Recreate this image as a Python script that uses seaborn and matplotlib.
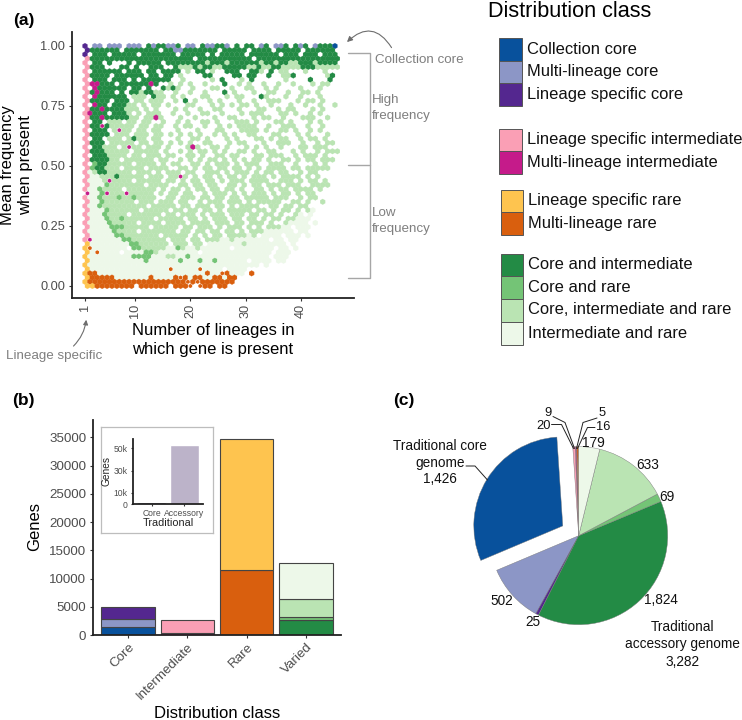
import matplotlib
matplotlib.use("Agg")
import matplotlib.pyplot as plt
from matplotlib.lines import Line2D
from matplotlib.patches import Rectangle, FancyArrowPatch
import numpy as np
import pandas as pd
import seaborn as sns

# ---------- data ----------
class_names = {
    "a": "Collection core", "m": "Multi-lineage core", "p": "Lineage specific core",
    "k": "Lineage specific intermediate", "i": "Multi-lineage intermediate",
    "y": "Lineage specific rare", "o": "Multi-lineage rare",
    "G": "Core and intermediate", "g": "Core and rare",
    "L": "Core, intermediate and rare", "E": "Intermediate and rare",
}
class_colors = {
    "a": "#08519c", "m": "#8c96c6", "p": "#54278f",
    "k": "#fa9fb5", "i": "#c51b8a",
    "y": "#fec44f", "o": "#d95f0e",
    "G": "#238b45", "g": "#74c476", "L": "#bae4b3", "E": "#edf8e9",
}
# class of each occupied hexagon, top row (frequency 1.00) to bottom row (0.00)
# j and q are thinly populated cells of classes i and o
hex_rows = [
"p.mm.mmm.mmm.GmGGmmG.mm.GmmGGm.G.GG.mG.mmG.GmG.mGGGa",
"pGGGGGG.GGGGGGG.GGmmGGGGGGG.GGGGG.GGGG.GGGGG.GGGGGG",
"p.GGG.GGGGG.GGGGGGG.GGGGG.G.GGGGG.GGGGGG.GGG.GGG.GGG",
"kGGGGGGGGGGGGGGGGGGGGG.GGGGGGGGGGG.GGGGGGGGGGGGGGGGG",
"k.GG.G...G.GGGGG.GGGGGGGGLGGGLGGGGGGLGGLGGLLGGGLGGGG",
"kGGG...GG.G..GGG..GLLLGLGGLLGGGGGLLGLLGGLLLLGGGLLLLL",
"k.GGGGGG.GGG.GG.GGGG.L.GG.L..GGG..GGL.G.LL...L...L..",
"kGGGG.GGGGGG.GG.GG.L....GG....GG.GG..G..LLG......LG.",
"k.GGG.GGG.G.GGGGGG..L.....L.G...L.G......L....G...G.",
"kiiGGG.GGGGGGiG..L.L.L..L...G..L.L..L..L..L...L.LL..",
"k.iGGGGGG.GG.G..GLGL..L...LL..L..LL..L.L....L...L...",
"kGiGGG.G.GGLGGLL..L..L..L...G.L...L..LL..L..LL.L....",
"k.iGGGGGG.LLL.GLL.L.L...LL...L.LL...GL...L..L...L...",
"kGGGG.GGG.LL.LLL..L.G.L..L.L...L..L..LLL...L.LL.L...",
"k.iGG.GGGLL.L.LL.L...LL...L.L.L.LL.L..L...L..L..L..L",
"kGGiGGGGLLL.L.L...L.L..L..LL...L...LL..L.LL...L.L...",
"kiGGG.GGGL.L.LLL..L..L..LL..L...L.LLL...LL.L..L.L...",
"kGGiGGGGGLL.LLiL...L..L...L..LL...L.LL..L...LLL..L..",
"k.GG.LLL.LL.LL..L..L.L..LL.L...LLL.L...LL.L...L.L...",
"kGGjGLLLLL.LL.LL..L.LL..L..L.L.LLLL..L..LLL..L..L...",
"k.GGG.LjLL.LL.LL...L...L...LL...LLLL.L..LL.L..L.L...",
"kGGGG.LLL.LLL.LL.L.L.L.L..L.L.L..LL...LL...L.L...L..",
"k.GG.LLL.LGLL.LL...L..LL.L...L.L...LL.L.LL..L.LL.L..",
"kGGG.LLLLL.LL.LL.L.L.L..LL...L.LL...L..LLL..L..L.LL.",
"k.GGLLL.LjLL.LLL.L...LiL..LL.L...L.L.L..L...LL.LLL..",
"kGGGLLLLL.LLLLL.L..L.L.LL.L.L..LL.L..LL...L.L..L.LLL.",
"k.GGGLLLL.LL.LLL.LL..LL.L..LL.LL...LL.LLL..L.LLL.L..",
"kGGGGLL.LLLLLL.LL..L.L.L.LL.L.L.L.LL.L..LL.L.LL.LLL.",
"k.gGGLLLLL.LLLL.L.LL..LL.L.LLL.L.LLL..LLL..L...L.L.",
"kgGGLLL.LLLL.LLLL..LL.L.LL.LL.LL.L.L.LLLL.LL.LLLLL..",
"kELGGLLLLL.LLL.L.LLL.LL..LLL.L.LLL.L.LL.LL..L.LL...",
"kEELLLGLLLLL.LLL.LLjL.L.LL.L.LL.L.LLL.L.LLLL.L.L...",
"kEEELjLLLL.LLLLL.LL.L.LL.LL.L.LLL.LLLL..LLL.L.LL.L..",
"kEEEgLLLLLLL.LLLL..LL.LL.LL..LL.L.LL.LLL.LLL..LLLL.",
"kEEgLLLL.LLLLLL.L.LL.L.LL.LL.LL.L..LL.L.LL.LLLL.L...",
"jEEgjLLLjLLLLL.L.LL.LL..L.LLL.L.L.LLL.L.LL.L.LL.....",
"kEEgLLLgLLgLLLL..LL.LLL.LL.LL.LL.LLLLL.LLL..L.LL...",
"kEEgLLLLLL.LLL.LLL.LL..L.LLL.LLL.L.LLLLL..LL.L..L...",
"kEEgLLLLLLLLL.LLLLL.LL.LLL.LL.L.LLLL..LL.LL.LL.....",
"kEEEgLLLLLL.LLLLL.LL.LL.LL.L.LLLLL.LL.L.LL.L.LE.....",
"kEEEgLLLL.LLLLLL.LL.LLL.L.LLL.LLL.LL.LL.L..LE.E....",
"kEEEgLLgLLLLLL.LLLLL.LL.L.LLL.LL.LL.L.LL.LLEEE.....",
"kEEEEgLLLLL.LLLL.LLLL.LLLL.LLL.LL.LLL.L..LEEEE.E...",
"kEEEEgggLLLLL.LLLLL.LL.LLL.L.LLL.L.L.LLLEE.EEE......",
"kEEEEEgLLLL.LLLLLLL.LL.LL.LL.LL.L.LLLEEEEEE.EE.....",
"kEEEEEggLLLLLLL.LLLLL.L.L.LL.LLLLEL.EEEE.EEE.E......",
"kjEEEEEEggLLLLLLL.LLL.LL.LLLEELEEEEEEE.EE.EE.......",
"yEEEEEEEEggLLLLLL.LLL.LL.EEEEEEELEEEEEEEE.E.......",
"yqEEEEEEE.ggLLLLLEEgLEELEEEEEE.EEEEEEEE.EE.E........",
"yEqEEEE.EEEEggLEEEEEEEE.EEEEEEEEEEEEEE.EEE..........",
"yEEEEEEEEEggggEEELLEEgEEEEEEEEEEEEEEEE.EEE..........",
"yEEEEEEEEEEEgEEEEEEgEEEgEEgEEEEEE.EEEE.EE............",
"yEEEEEEEEEEEEEEEEEEEEEEEEEEEEEEEEEEE.E...............",
"yEEEEEEEEEEEEEEEEqEEEEEqEEEE.EEEE.....................",
"yooEEEEEEEEEEEEEEEEEEEEEEoEEqoEEE.o...................",
"yoooooEEEEEEEoEEEEoqoEooEEooEoo......................",
"yooooooooooooooooooooqoqooooooo.......................",
"yyoooooooo.oooooo.oooq.qoo.oo.........................",
]
hex_thin = {"j": "i", "q": "o"}

legend_groups = [list("amp"), list("ki"), list("yo"), list("GgLE")]

bar_categories = ["Core", "Intermediate", "Rare", "Varied"]
bar_stack = [
    ("Core", "a", 1426), ("Core", "m", 1450), ("Core", "p", 2100),
    ("Intermediate", "i", 350), ("Intermediate", "k", 2300),
    ("Rare", "o", 11450), ("Rare", "y", 23190),
    ("Varied", "G", 2700), ("Varied", "g", 550), ("Varied", "L", 3050), ("Varied", "E", 6500),
]
inset_categories = ["Core", "Accessory"]
inset_values = [1426, 53200]

pie_classes = list("oyikampGgLE")
pie_values = [16, 5, 9, 20, 1426, 502, 25, 1824, 69, 633, 179]

# ---------- figure ----------
W, H = 742, 720
sns.set_theme(style="white")
plt.rcParams["font.family"] = ["Liberation Sans", "DejaVu Sans"]
fig = plt.figure(figsize=(W / 100, H / 100), dpi=100, facecolor="white")

def ax_px(l, t, r, b, **kw):
    return fig.add_axes([l / W, 1 - b / H, (r - l) / W, (b - t) / H], **kw)

def txt(x, y, s, **kw):
    kw.setdefault("ha", "center")
    kw.setdefault("va", "center")
    return fig.text(x / W, 1 - y / H, s, **kw)

def pline(xs, ys, **kw):
    fig.add_artist(Line2D([x / W for x in xs], [1 - y / H for y in ys],
                          transform=fig.transFigure, **kw))

def style_axes(ax, lw=1.3, tick=2.5, size=9.2, col="#4d4d4d"):
    sns.despine(ax=ax)
    for s in ("left", "bottom"):
        ax.spines[s].set_color("#222222")
        ax.spines[s].set_linewidth(lw)
    ax.tick_params(axis="both", length=tick, width=0.8, color="#333333",
                   labelsize=size, labelcolor=col, pad=2,
                   bottom=True, left=True)

# ---------- (a) hexagon map ----------
n_rows = len(hex_rows)
col_step = 46 / 52
records = []
for r, row in enumerate(hex_rows):
    for c, ch in enumerate(row[:53]):
        if ch in class_names or ch in hex_thin:
            records.append((1 + col_step * (c + 0.5 * (r % 2)), 1 - r / (n_rows - 1),
                            hex_thin.get(ch, ch), ch in hex_thin))
hex_df = pd.DataFrame(records, columns=["lineages", "frequency", "cls", "thin"])

ax_a = ax_px(71.5, 32, 354, 297.5)
sns.scatterplot(data=hex_df[~hex_df.thin], x="lineages", y="frequency", hue="cls",
                palette=class_colors, marker="h", s=17, linewidth=0.15, edgecolor="face",
                legend=False, ax=ax_a)
sns.scatterplot(data=hex_df[hex_df.thin], x="lineages", y="frequency", hue="cls",
                palette=class_colors, marker="h", s=9, linewidth=0, legend=False, ax=ax_a)
ax_a.set_xlim(1 + (71.5 - 85) / 5.54, 1 + (354 - 85) / 5.54)
ax_a.set_ylim((286 - 297.5) / 240, 1 + (46 - 32) / 240)
ax_a.set_xticks([1, 10, 20, 30, 40])
ax_a.set_yticks([0, 0.25, 0.5, 0.75, 1.0], ["0.00", "0.25", "0.50", "0.75", "1.00"])
ax_a.set_xlabel("")
ax_a.set_ylabel("")
style_axes(ax_a)
for lab in ax_a.get_xticklabels():
    lab.set_rotation(90)

txt(23.5, 20, "(a)", fontsize=12.5, fontweight="bold", color="black")
txt(8, 165, "Mean frequency", rotation=90, fontsize=12, color="black")
txt(26, 165, "when present", rotation=90, fontsize=12, color="black")
txt(132, 331, "Number of lineages in", ha="left", fontsize=12, color="black")
txt(132, 349, "which gene is present", ha="left", fontsize=12, color="black")

grey = "#7f7f7f"
txt(375, 60, "Collection core", ha="left", fontsize=9.6, color=grey)
txt(372, 100, "High", ha="left", fontsize=9.6, color=grey)
txt(372, 116, "frequency", ha="left", fontsize=9.6, color=grey)
txt(372, 213, "Low", ha="left", fontsize=9.6, color=grey)
txt(372, 229, "frequency", ha="left", fontsize=9.6, color=grey)
txt(54, 356, "Lineage specific", fontsize=9.6, color=grey)
br = dict(color="#a6a6a6", lw=1.0)
pline([348, 369.5, 369.5, 348], [52.7, 52.7, 278, 278], **br)
pline([348, 369.5], [165, 165], **br)
fig.add_artist(FancyArrowPatch((393 / W, 1 - 50 / H), (345 / W, 1 - 44 / H),
                               transform=fig.transFigure, connectionstyle="arc3,rad=0.65",
                               arrowstyle="-|>", mutation_scale=8, color="#6e6e6e", lw=0.8))
fig.add_artist(FancyArrowPatch((71.5 / W, 1 - 348 / H), (86.5 / W, 1 - 317 / H),
                               transform=fig.transFigure, connectionstyle="arc3,rad=0.2",
                               arrowstyle="-|>", mutation_scale=7, color="#6e6e6e", lw=0.8))

# ---------- legend ----------
txt(488, 17, "Distribution class", ha="left", va="baseline", fontsize=15.6, color="black")
legend_tops = [[38, 60.5, 83], [128.5, 151], [190, 212.5], [253.5, 276, 299, 322]]
legend_x = [499, 499, 500.5, 500.5]
for group, tops, lx in zip(legend_groups, legend_tops, legend_x):
    for key, top in zip(group, tops):
        fig.add_artist(Rectangle((lx / W, 1 - (top + 22.5) / H), 22.5 / W, 22.5 / H,
                                 transform=fig.transFigure, facecolor=class_colors[key],
                                 edgecolor="#555555", lw=0.7))
        txt(lx + 28, top + 11, class_names[key], ha="left", fontsize=11.9, color="#111111")

# ---------- (b) stacked bars ----------
ax_b = ax_px(92.5, 420, 341, 635)
bottoms = {c: 0 for c in bar_categories}
for cat, key, val in bar_stack:
    sns.barplot(x=[cat], y=[val], order=bar_categories, color=class_colors[key], saturation=1,
                width=0.9, bottom=bottoms[cat], edgecolor="#444444", linewidth=0.8, ax=ax_b)
    bottoms[cat] += val
ax_b.set_xlim(-0.6, 3.59)
ax_b.set_ylim(0, 38060)
ax_b.set_yticks(np.arange(0, 35001, 5000))
ax_b.set_xlabel("")
ax_b.set_ylabel("")
style_axes(ax_b, size=9.6)
for lab in ax_b.get_xticklabels():
    lab.set_rotation(45)
    lab.set_ha("right")
    lab.set_rotation_mode("anchor")
txt(23.5, 400.5, "(b)", fontsize=12.5, fontweight="bold", color="black")
txt(35, 526.5, "Genes", rotation=90, fontsize=12, color="black")
txt(217, 714, "Distribution class", fontsize=12, color="black")

# inset
frame = ax_px(100.7, 427.3, 213.3, 533.3, facecolor="white")
frame.set_xticks([])
frame.set_yticks([])
for s in frame.spines.values():
    s.set_color("#bdbdbd")
    s.set_linewidth(0.9)
ax_i = ax_px(132.7, 439.3, 203, 504, facecolor="none")
sns.barplot(x=inset_categories, y=inset_values, hue=inset_categories, order=inset_categories,
            palette=["#3f3a5c", "#bcb3c9"], saturation=1, width=0.9, legend=False, ax=ax_i)
ax_i.set_xlim(-0.583, 1.57)
ax_i.set_ylim(0, 58000)
ax_i.set_yticks([0, 10000, 30000, 50000], ["0", "10k", "30k", "50k"])
ax_i.set_xlabel("")
ax_i.set_ylabel("")
style_axes(ax_i, lw=1.3, tick=1.5, size=6.2)
txt(106.5, 471, "Genes", rotation=90, fontsize=7.3, color="#222222")
txt(168, 523, "Traditional", fontsize=7.8, color="#222222")

# ---------- (c) pie ----------
half = 89 * 1.3
ax_c = ax_px(578.7 - half, 535.7 - half, 578.7 + half, 535.7 + half)
explode = [0.21 if k == "a" else 0 for k in pie_classes]
ax_c.pie(pie_values, colors=[class_colors[k] for k in pie_classes], startangle=90,
         counterclock=True, explode=explode, radius=1,
         wedgeprops=dict(edgecolor="#777777", linewidth=0.3))
ax_c.set_xlim(-1.3, 1.3)
ax_c.set_ylim(-1.3, 1.3)

txt(393, 400.5, "(c)", ha="left", fontsize=12.5, fontweight="bold", color="black")
pie_fs = 9.8
for x, y, s in [(593.3, 443.3, "179"), (647.3, 465, "633"), (666.7, 497.3, "69"),
                (661, 600, "1,824"), (501.7, 600.7, "502"), (532.7, 622.3, "25"),
                (440, 445.7, "Traditional core"), (440, 462.7, "genome"), (440, 479.3, "1,426"),
                (682.7, 627.3, "Traditional"), (682.7, 644.3, "accessory genome"),
                (682.7, 661.7, "3,282")]:
    txt(x, y, s, fontsize=pie_fs, color="#111111")
for x, y, s in [(548.3, 412.5, "9"), (544, 426, "20"), (602.3, 413.5, "5"), (602.7, 427.5, "16")]:
    txt(x, y, s, fontsize=9.3, color="#111111")
ld = dict(color="#222222", lw=0.7)
pline([553, 565, 574.5], [416.5, 422.5, 448.5], **ld)
pline([551.5, 561.5, 573.5], [424.5, 424.5, 448.5], **ld)
pline([597, 583, 576.5], [418, 422.5, 448.5], **ld)
pline([595, 587.5, 577.5], [427.5, 427.5, 448.5], **ld)
pline([466, 475, 487.5], [466, 466, 480], **ld)

fig.savefig("out.png", dpi=100)
